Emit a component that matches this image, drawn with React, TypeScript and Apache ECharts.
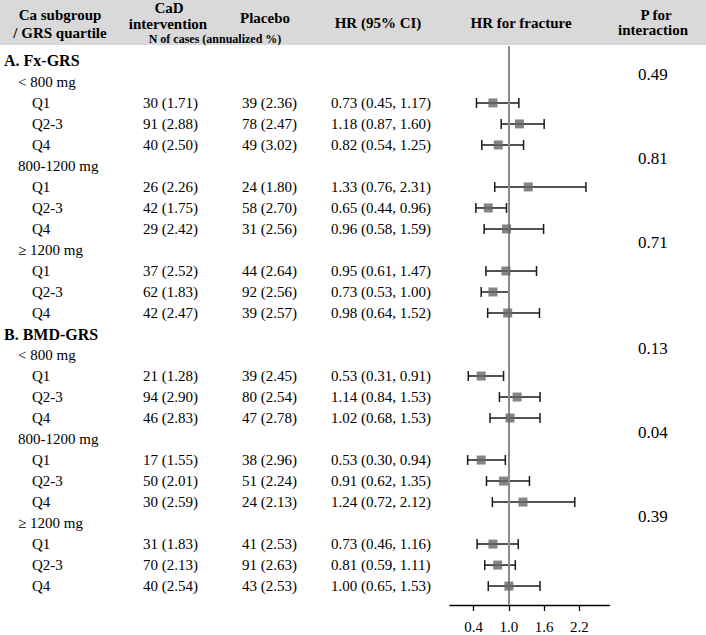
import React, { useEffect, useRef } from "react";
import * as echarts from "echarts";

// ---------- data ----------
const rowLabels = [
  "A. Fx-GRS", "< 800 mg", "Q1", "Q2-3", "Q4", "800-1200 mg", "Q1", "Q2-3", "Q4", "≥ 1200 mg", "Q1", "Q2-3", "Q4",
  "B. BMD-GRS", "< 800 mg", "Q1", "Q2-3", "Q4", "800-1200 mg", "Q1", "Q2-3", "Q4", "≥ 1200 mg", "Q1", "Q2-3", "Q4",
];
const rowLevels = [0, 1, 2, 2, 2, 1, 2, 2, 2, 1, 2, 2, 2, 0, 1, 2, 2, 2, 1, 2, 2, 2, 1, 2, 2, 2];

const cadCases = [
  "30 (1.71)", "91 (2.88)", "40 (2.50)", "26 (2.26)", "42 (1.75)", "29 (2.42)", "37 (2.52)", "62 (1.83)", "42 (2.47)",
  "21 (1.28)", "94 (2.90)", "46 (2.83)", "17 (1.55)", "50 (2.01)", "30 (2.59)", "31 (1.83)", "70 (2.13)", "40 (2.54)",
];
const placeboCases = [
  "39 (2.36)", "78 (2.47)", "49 (3.02)", "24 (1.80)", "58 (2.70)", "31 (2.56)", "44 (2.64)", "92 (2.56)", "39 (2.57)",
  "39 (2.45)", "80 (2.54)", "47 (2.78)", "38 (2.96)", "51 (2.24)", "24 (2.13)", "41 (2.53)", "91 (2.63)", "43 (2.53)",
];
const hr = [0.73, 1.18, 0.82, 1.33, 0.65, 0.96, 0.95, 0.73, 0.98, 0.53, 1.14, 1.02, 0.53, 0.91, 1.24, 0.73, 0.81, 1.0];
const ciLow = [0.45, 0.87, 0.54, 0.76, 0.44, 0.58, 0.61, 0.53, 0.64, 0.31, 0.84, 0.68, 0.3, 0.62, 0.72, 0.46, 0.59, 0.65];
const ciHigh = [1.17, 1.6, 1.25, 2.31, 0.96, 1.59, 1.47, 1.0, 1.52, 0.91, 1.53, 1.53, 0.94, 1.35, 2.12, 1.16, 1.11, 1.53];
const pInteraction = ["0.49", "0.81", "0.71", "0.13", "0.04", "0.39"];
const xTickValues = [0.4, 1.0, 1.6, 2.2];

const FONT = "'Liberation Serif', 'Times New Roman', serif";

export default function App() {
  const ref = useRef<HTMLDivElement>(null);

  useEffect(() => {
    document.body.style.margin = "0";
    if (!ref.current) return;
    const chart = echarts.init(ref.current, undefined, { renderer: "svg" });

    const quartileRows: number[] = [];
    const subgroupRows: number[] = [];
    rowLevels.forEach((lv, i) => {
      if (lv === 2) quartileRows.push(i);
      if (lv === 1) subgroupRows.push(i);
    });

    const tableData = rowLabels.map((_, i) => [0, i]);
    const forestData = quartileRows.map((row, k) => [hr[k], ciLow[k], ciHigh[k], row]);
    const squareData = quartileRows.map((row, k) => [hr[k], row]);
    const pData = subgroupRows.map((row, k) => [0, row, k]);

    const colX = { level0: 4, level1: 18, level2: 32, cad: 143, placebo: 242, hr: 331, p: 638 };

    const headerTexts = [
      { t: "Ca subgroup", x: 60, y: 15, f: 15 },
      { t: "/ GRS quartile", x: 60, y: 33, f: 15 },
      { t: "CaD", x: 169, y: 8, f: 15 },
      { t: "intervention", x: 168, y: 24, f: 15 },
      { t: "N of cases (annualized %)", x: 215, y: 39, f: 12 },
      { t: "Placebo", x: 265, y: 18, f: 15 },
      { t: "HR (95% CI)", x: 378, y: 23, f: 15 },
      { t: "HR for fracture", x: 521, y: 23, f: 15 },
      { t: "P for", x: 656, y: 15, f: 15 },
      { t: "interaction", x: 653, y: 30, f: 15 },
    ];

    const option: any = {
      animation: false,
      grid: { left: 450, right: 96.5, top: 46, height: 559 },
      xAxis: {
        type: "value",
        position: "bottom",
        min: 0,
        max: 2.71,
        splitLine: { show: false },
        axisLine: { show: true, onZero: false, lineStyle: { color: "#000", width: 1.3 } },
        axisTick: { show: true, customValues: xTickValues, length: 6, lineStyle: { color: "#000", width: 1.3 } },
        axisLabel: {
          customValues: xTickValues,
          formatter: (v: number) => v.toFixed(1),
          color: "#000",
          fontFamily: FONT,
          fontSize: 15,
          margin: 14,
        },
      },
      yAxis: { type: "value", inverse: true, min: -0.71, max: 25.9, show: false },
      graphic: [
        { type: "rect", left: 0, top: 0, shape: { width: 706, height: 45 }, style: { fill: "#d9d9d9" }, silent: true },
        ...headerTexts.map((h) => ({
          type: "text",
          x: h.x,
          y: h.y,
          style: {
            text: h.t,
            font: `bold ${h.f}px ${FONT}`,
            fill: "#000",
            align: "center",
            verticalAlign: "middle",
          },
        })),
      ],
      series: [
        {
          type: "custom",
          name: "table",
          clip: false,
          data: tableData,
          renderItem: (params: any, api: any) => {
            const i = api.value(1);
            const y = api.coord([0, i])[1];
            const lv = rowLevels[i];
            const children: any[] = [];
            const x = lv === 0 ? colX.level0 : lv === 1 ? colX.level1 : colX.level2;
            children.push({
              type: "text",
              x,
              y,
              style: {
                text: rowLabels[i],
                font: `${lv === 0 ? "bold 16px" : "15px"} ${FONT}`,
                fill: "#000",
                align: "left",
                verticalAlign: "middle",
              },
            });
            const k = quartileRows.indexOf(i);
            if (k >= 0) {
              const cells = [
                { t: cadCases[k], x: colX.cad },
                { t: placeboCases[k], x: colX.placebo },
                { t: `${hr[k].toFixed(2)} (${ciLow[k].toFixed(2)}, ${ciHigh[k].toFixed(2)})`, x: colX.hr },
              ];
              cells.forEach((c) =>
                children.push({
                  type: "text",
                  x: c.x,
                  y,
                  style: { text: c.t, font: `15px ${FONT}`, fill: "#000", align: "left", verticalAlign: "middle" },
                })
              );
            }
            return { type: "group", children };
          },
        },
        {
          type: "custom",
          name: "pvalues",
          clip: false,
          data: pData,
          renderItem: (params: any, api: any) => {
            const row = api.value(1);
            const k = api.value(2);
            const y = api.coord([0, row])[1] - 7;
            return {
              type: "text",
              x: colX.p,
              y,
              style: { text: pInteraction[k], font: `17px ${FONT}`, fill: "#000", align: "left", verticalAlign: "middle" },
            };
          },
        },
        {
          type: "custom",
          name: "ci",
          clip: false,
          data: forestData,
          z: 3,
          renderItem: (params: any, api: any) => {
            const row = api.value(3);
            const p1 = api.coord([api.value(1), row]);
            const p2 = api.coord([api.value(2), row]);
            const style = { stroke: "#1a1a1a", lineWidth: 1.5 };
            return {
              type: "group",
              children: [
                { type: "line", shape: { x1: p1[0], y1: p1[1], x2: p2[0], y2: p2[1] }, style },
                { type: "line", shape: { x1: p1[0], y1: p1[1] - 5, x2: p1[0], y2: p1[1] + 5 }, style },
                { type: "line", shape: { x1: p2[0], y1: p2[1] - 5, x2: p2[0], y2: p2[1] + 5 }, style },
              ],
            };
          },
        },
        {
          type: "scatter",
          name: "HR",
          data: squareData,
          symbol: "rect",
          symbolSize: 9,
          z: 5,
          itemStyle: { color: "#676767" },
          markLine: {
            silent: true,
            symbol: "none",
            label: { show: false },
            lineStyle: { color: "#8c8c8c", width: 2, type: "solid" },
            data: [{ xAxis: 1 }],
            z: 4,
          },
        },
      ],
    };

    chart.setOption(option);
    return () => chart.dispose();
  }, []);

  return <div ref={ref} style={{ position: "absolute", left: 0, top: 0, width: 706, height: 635 }} />;
}
